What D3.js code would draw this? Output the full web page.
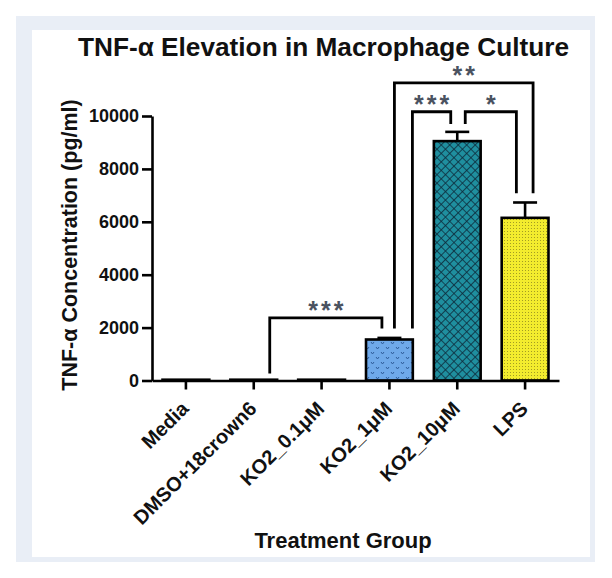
<!DOCTYPE html>
<html>
<head>
<meta charset="utf-8">
<script src="https://cdn.jsdelivr.net/npm/d3@7"></script>
<style>
  html, body { margin: 0; padding: 0; background: #fff; }
  svg { display: block; }
  text { font-family: "Liberation Sans", Arial, Helvetica, sans-serif; font-weight: bold; fill: #111; }
</style>
</head>
<body>
<div id="chart"></div>
<script>
// ---- data ----
const categories = ["Media", "DMSO+18crown6", "KO2_0.1μM", "KO2_1μM", "KO2_10μM", "LPS"];
const means      = [30, 30, 30, 1550, 9050, 6150];
const errors     = [0, 0, 0, 60, 350, 580];
const yTicks     = [0, 2000, 4000, 6000, 8000, 10000];

// significance comparisons
const sigLabels     = ["***", "***", "*", "**"];
const sigFrom       = [1, 3, 4, 3];
const sigTo         = [3, 4, 5, 5];
const sigLevel      = [2370, 10160, 10160, 11250];
const sigLeftEnd    = [265, 1970, 9700, 1970];
const sigRightEnd   = [1970, 9700, 7080, 7080];

// ---- layout ----
const W = 612, H = 578;
const legOffsetLeft  = [16, 23, 8, 5];
const legOffsetRight = [-7.5, -6.5, -8.7, 8];

const svg = d3.select("#chart").append("svg").attr("width", W).attr("height", H);

// frame
svg.append("rect").attr("x", 16).attr("y", 16).attr("width", 579).attr("height", 546).attr("fill", "#e9eef6");
svg.append("rect").attr("x", 32).attr("y", 30).attr("width", 558).attr("height", 527).attr("fill", "#fff");

// patterns
const defs = svg.append("defs");
const p1 = defs.append("pattern").attr("id", "pBlue").attr("patternUnits", "userSpaceOnUse")
  .attr("width", 10).attr("height", 10);
p1.append("rect").attr("width", 10).attr("height", 10).attr("fill", "#6fa9ea");
p1.append("path").attr("d", "M1,2 L2.5,4 L4,2 M6,7 L7.5,9 L9,7").attr("stroke", "#2e5c9a").attr("stroke-width", 1).attr("fill", "none");

const p2 = defs.append("pattern").attr("id", "pTeal").attr("patternUnits", "userSpaceOnUse")
  .attr("width", 6).attr("height", 6).attr("patternTransform", "rotate(45)");
p2.append("rect").attr("width", 6).attr("height", 6).attr("fill", "#1f8f9f");
p2.append("path").attr("d", "M0,0 H6 M0,0 V6").attr("stroke", "#0d2a3a").attr("stroke-width", 1.6);

const p3 = defs.append("pattern").attr("id", "pYellow").attr("patternUnits", "userSpaceOnUse")
  .attr("width", 3).attr("height", 3);
p3.append("rect").attr("width", 3).attr("height", 3).attr("fill", "#f3ec2e");
p3.append("rect").attr("width", 1).attr("height", 1).attr("fill", "#a39c22");

const fills = ["#fff", "#fff", "#fff", "url(#pBlue)", "url(#pTeal)", "url(#pYellow)"];

// scales
const x = d3.scaleBand().domain(categories).range([152, 559]).paddingInner(0.31).paddingOuter(0.155);
const y = d3.scaleLinear().domain([0, 10000]).range([380.5, 116]);

// title
svg.append("text").attr("x", 323.5).attr("y", 56).attr("text-anchor", "middle")
  .attr("font-size", 26).attr("textLength", 491).attr("lengthAdjust", "spacingAndGlyphs")
  .text("TNF-α Elevation in Macrophage Culture");

// y label
svg.append("text").attr("transform", "translate(77,245) rotate(-90)").attr("text-anchor", "middle")
  .attr("font-size", 21.5).text("TNF-α Concentration (pg/ml)");

// x label
svg.append("text").attr("x", 343).attr("y", 548).attr("text-anchor", "middle")
  .attr("font-size", 22).text("Treatment Group");

// bars
const cx = d => x(d) + x.bandwidth() / 2;
svg.append("g").selectAll("rect").data(categories).join("rect")
  .attr("x", d => x(d)).attr("width", x.bandwidth())
  .attr("y", (d, i) => y(means[i])).attr("height", (d, i) => y(0) - y(means[i]))
  .attr("fill", (d, i) => fills[i]).attr("stroke", "#000").attr("stroke-width", 2.6);

// error bars (upper only)
const eb = svg.append("g").attr("stroke", "#000").attr("stroke-width", 2.6);
categories.forEach((c, i) => {
  if (!errors[i]) return;
  const top = y(means[i] + errors[i]);
  eb.append("line").attr("x1", cx(c)).attr("x2", cx(c)).attr("y1", y(means[i])).attr("y2", top);
  eb.append("line").attr("x1", cx(c) - 12).attr("x2", cx(c) + 12).attr("y1", top).attr("y2", top);
});

// axes
const yAxis = svg.append("g").attr("transform", "translate(152,0)")
  .call(d3.axisLeft(y).tickValues(yTicks).tickFormat(d3.format("d")).tickSize(10).tickSizeOuter(0).tickPadding(3));
const xAxis = svg.append("g").attr("transform", "translate(0,380.5)")
  .call(d3.axisBottom(x).tickSize(9).tickSizeOuter(0).tickFormat(""));
[yAxis, xAxis].forEach(a => {
  a.select(".domain").attr("stroke", "#000").attr("stroke-width", 2.6);
  a.selectAll(".tick line").attr("stroke", "#000").attr("stroke-width", 2.6);
});
yAxis.selectAll("text").attr("font-size", 18).attr("font-family", "Liberation Sans, Arial, sans-serif")
  .attr("font-weight", "bold").attr("fill", "#111");

// category labels
svg.append("g").selectAll("text").data(categories).join("text")
  .attr("transform", d => `translate(${cx(d) + 4},410) rotate(-45)`)
  .attr("text-anchor", "end").attr("font-size", 20).text(d => d);

// significance brackets
const sg = svg.append("g");
sigLabels.forEach((lab, i) => {
  const xl = cx(categories[sigFrom[i]]) + legOffsetLeft[i];
  const xr = cx(categories[sigTo[i]]) + legOffsetRight[i];
  const yl = y(sigLevel[i]);
  sg.append("path")
    .attr("d", `M${xl},${y(sigLeftEnd[i])} V${yl} H${xr} V${y(sigRightEnd[i])}`)
    .attr("fill", "none").attr("stroke", "#000").attr("stroke-width", 2.8);
  sg.append("text").attr("x", (xl + xr) / 2 + 1.5).attr("y", yl + 1).attr("text-anchor", "middle")
    .attr("font-size", 25).attr("letter-spacing", 3).style("fill", "#4a5260").text(lab);
});
</script>
</body>
</html>
